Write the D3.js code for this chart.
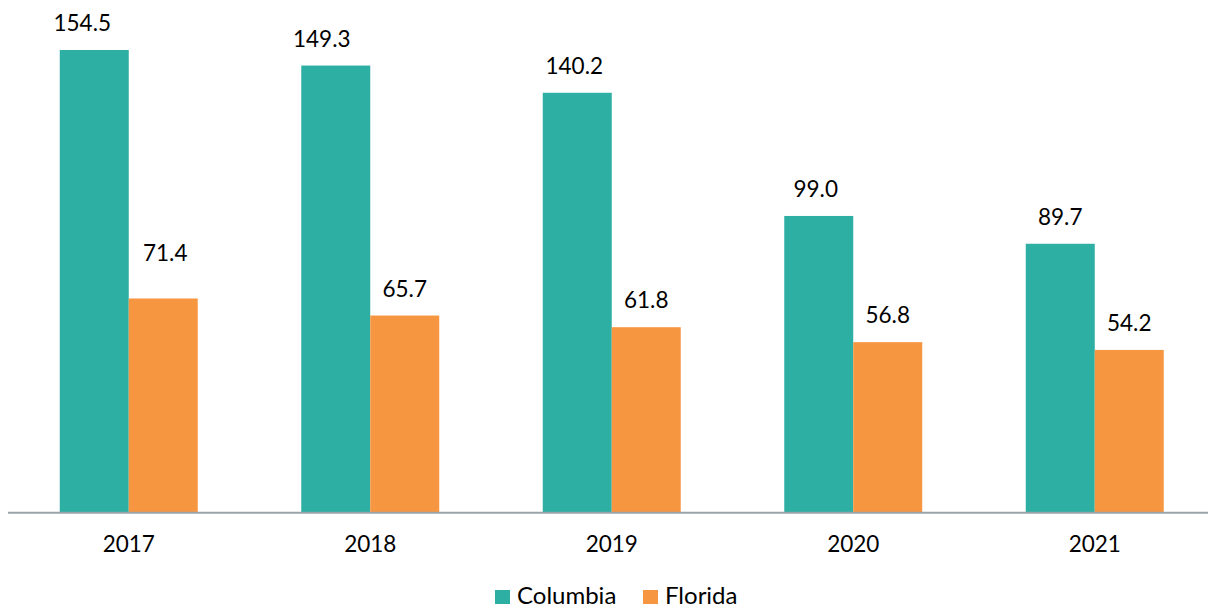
<!DOCTYPE html>
<html>
<head>
<meta charset="utf-8">
<script src="https://cdn.jsdelivr.net/npm/d3@7"></script>
<style>
  body { margin: 0; background: #fff; }
  text { font-family: Lato, "Open Sans", sans-serif; fill: #000; }
</style>
</head>
<body>
<svg id="chart"></svg>
<script>
const years = ['2017', '2018', '2019', '2020', '2021'];
const seriesNames = ['Columbia', 'Florida'];
const columbia = [154.5, 149.3, 140.2, 99.0, 89.7];
const florida = [71.4, 65.7, 61.8, 56.8, 54.2];

const colors = { Columbia: '#2DAFA4', Florida: '#F79641' };

// label nudges to mimic the hand-placed labels of the original
const labelNudge = {
  'Columbia-2017': [-12, 0],
  'Columbia-2018': [-14, 0],
  'Columbia-2019': [-3, 0],
  'Columbia-2020': [-3, 0],
  'Florida-2017': [2, -18],
};

const W = 1208, H = 610;
const baseY = 512;

const svg = d3.select('#chart').attr('width', W).attr('height', H);

const rows = years.map((y, i) => ({ year: y, Columbia: columbia[i], Florida: florida[i] }));

const x0 = d3.scaleBand()
  .domain(years)
  .range([8, 1215.5])
  .paddingInner(0.4286)
  .paddingOuter(0.2143);

const x1 = d3.scaleBand()
  .domain(seriesNames)
  .range([0, x0.bandwidth()]);

const y = d3.scaleLinear()
  .domain([0, 154.5])
  .range([baseY, 50]);

const groups = svg.append('g')
  .selectAll('g')
  .data(rows)
  .join('g')
  .attr('transform', d => `translate(${x0(d.year)},0)`);

groups.selectAll('rect')
  .data(d => seriesNames.map(k => ({ key: k, year: d.year, value: d[k] })))
  .join('rect')
  .attr('x', d => x1(d.key))
  .attr('y', d => y(d.value))
  .attr('width', x1.bandwidth())
  .attr('height', d => baseY - y(d.value))
  .attr('fill', d => colors[d.key]);

groups.selectAll('text.val')
  .data(d => seriesNames.map(k => ({ key: k, year: d.year, value: d[k] })))
  .join('text')
  .attr('class', 'val')
  .attr('text-anchor', 'middle')
  .attr('font-size', 22.5)
  .attr('x', d => x1(d.key) + x1.bandwidth() / 2 + (labelNudge[d.key + '-' + d.year] || [0, 0])[0])
  .attr('y', d => y(d.value) - 19 + (labelNudge[d.key + '-' + d.year] || [0, 0])[1])
  .text(d => d.value.toFixed(1));

// category axis
const xAxis = svg.append('g')
  .attr('transform', `translate(0,${baseY})`)
  .call(d3.axisBottom(x0).tickSize(0).tickPadding(24));
xAxis.select('.domain').remove();
xAxis.selectAll('text')
  .attr('font-size', 22.5)
  .attr('font-family', 'Lato, "Open Sans", sans-serif')
  .attr('fill', '#000');

svg.append('line')
  .attr('x1', 8).attr('x2', 1208)
  .attr('y1', baseY + 0.75).attr('y2', baseY + 0.75)
  .attr('stroke', '#9AA3A8')
  .attr('stroke-width', 1.8);

// legend
const legend = svg.append('g');
const legendItems = [
  { key: 'Columbia', x: 495 },
  { key: 'Florida', x: 643 },
];
const li = legend.selectAll('g')
  .data(legendItems)
  .join('g')
  .attr('transform', d => `translate(${d.x},590)`);
li.append('rect')
  .attr('width', 15).attr('height', 14)
  .attr('fill', d => colors[d.key]);
li.append('text')
  .attr('x', 22).attr('y', 14)
  .attr('font-size', 24)
  .text(d => d.key);
</script>
</body>
</html>
